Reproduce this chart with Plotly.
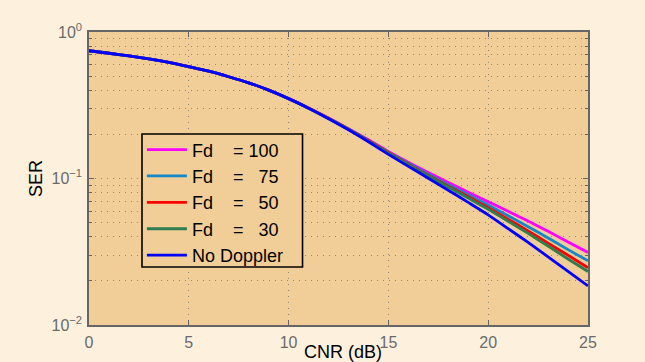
import plotly.graph_objects as go

# CNR axis (dB)
cnr_db = list(range(0, 26))

# Symbol error rate per Doppler setting
ser_no_doppler = [0.745, 0.716, 0.687, 0.656, 0.621, 0.581, 0.540, 0.495, 0.450, 0.401,
                  0.351, 0.302, 0.256, 0.215, 0.178, 0.146, 0.121, 0.1005, 0.0832, 0.0687,
                  0.0565, 0.0455, 0.0366, 0.0292, 0.0232, 0.0185]
ser_fd30 = [0.745, 0.716, 0.687, 0.656, 0.621, 0.581, 0.540, 0.495, 0.450, 0.401,
            0.351, 0.302, 0.257, 0.217, 0.180, 0.149, 0.124, 0.104, 0.0875, 0.0735,
            0.0617, 0.0511, 0.0422, 0.0346, 0.0282, 0.0232]
ser_fd50 = [0.745, 0.716, 0.687, 0.656, 0.621, 0.581, 0.540, 0.495, 0.450, 0.401,
            0.351, 0.303, 0.258, 0.217, 0.181, 0.150, 0.125, 0.105, 0.0887, 0.0750,
            0.0632, 0.0527, 0.0439, 0.0362, 0.0299, 0.0246]
ser_fd75 = [0.745, 0.716, 0.687, 0.656, 0.621, 0.581, 0.540, 0.495, 0.450, 0.401,
            0.351, 0.303, 0.258, 0.218, 0.182, 0.151, 0.127, 0.107, 0.0908, 0.0774,
            0.0659, 0.0556, 0.0469, 0.0393, 0.0327, 0.0274]
ser_fd100 = [0.745, 0.716, 0.687, 0.656, 0.621, 0.581, 0.540, 0.495, 0.450, 0.401,
             0.351, 0.303, 0.259, 0.219, 0.184, 0.153, 0.129, 0.110, 0.0938, 0.0807,
             0.0695, 0.0597, 0.0512, 0.0436, 0.0369, 0.0313]

series_names = ["Fd\u00a0\u00a0\u00a0\u00a0=\u00a0100",
                "Fd\u00a0\u00a0\u00a0\u00a0=\u00a0\u200775",
                "Fd\u00a0\u00a0\u00a0\u00a0=\u00a0\u200750",
                "Fd\u00a0\u00a0\u00a0\u00a0=\u00a0\u200730",
                "No Doppler"]
series_values = [ser_fd100, ser_fd75, ser_fd50, ser_fd30, ser_no_doppler]
series_colors = ["#FF00FF", "#1488C8", "#FF0000", "#2E7D4E", "#0000FF"]

x_ticks = [0, 5, 10, 15, 20, 25]
y_ticks = [1, 0.1, 0.01]
y_ticktext = ["10<sup>0</sup>", "10<sup>\u22121</sup>", "10<sup>\u22122</sup>"]
y_minor = [m * d for d in (0.01, 0.1) for m in range(2, 10)]

fig = go.Figure()
for name, vals, col in zip(series_names, series_values, series_colors):
    fig.add_trace(go.Scatter(x=cnr_db, y=vals, mode="lines", name=name,
                             line=dict(color=col, width=2.8, shape="spline", smoothing=0.6)))

grid_col = "rgba(120,120,120,0.8)"
grid_dash = "1px,5px"
axis_font = dict(family="Liberation Sans, Arial, sans-serif", size=16, color="#6a6a6a")
font_family = "Liberation Sans, Arial, sans-serif"

fig.update_layout(
    width=645, height=362,
    margin=dict(l=89, r=57, t=32, b=37),
    paper_bgcolor="#FDF1DE",
    plot_bgcolor="#F1CE97",
    font=dict(family=font_family, color="#000000"),
    legend=dict(x=0.106, y=0.661, xanchor="left", yanchor="top",
                bgcolor="rgba(0,0,0,0)", borderwidth=0,
                font=dict(size=18, color="#000000"), tracegroupgap=0,
                itemwidth=40),
    showlegend=True,
    shapes=[
        # legend frame
        dict(type="rect", xref="paper", yref="paper",
             x0=0.1062, x1=0.4279, y0=0.198, y1=0.6519,
             line=dict(color="#000000", width=1.6), fillcolor="#F1CE97", layer="above"),
    ],
    annotations=[
        dict(text="CNR (dB)", xref="paper", yref="paper", x=0.51, y=-0.093,
             xanchor="center", yanchor="middle", showarrow=False,
             font=dict(family=font_family, size=18, color="#000000")),
    ],
)

fig.update_xaxes(
    range=[0, 25], tickvals=x_ticks, ticks="inside", ticklen=5, tickcolor="#666666",
    showline=True, linecolor="#666666", linewidth=1.5, mirror="allticks",
    showgrid=True, gridcolor=grid_col, griddash=grid_dash, gridwidth=1.2,
    zeroline=False, tickfont=axis_font, ticklabelstandoff=2,
)
fig.update_yaxes(
    type="log", range=[-2, 0], tickvals=y_ticks, ticktext=y_ticktext,
    ticks="inside", ticklen=5, tickcolor="#666666",
    showline=True, linecolor="#666666", linewidth=1.5, mirror="allticks",
    showgrid=True, gridcolor=grid_col, griddash=grid_dash, gridwidth=1.2,
    zeroline=False, tickfont=axis_font, ticklabelstandoff=2,
    minor=dict(tickvals=y_minor, ticks="inside", ticklen=3, tickcolor="#666666",
               showgrid=True, gridcolor=grid_col, griddash=grid_dash, gridwidth=1.2),
    title=dict(text="SER", font=dict(size=18, color="#000000"), standoff=4),
)

fig.write_html("out.html")
